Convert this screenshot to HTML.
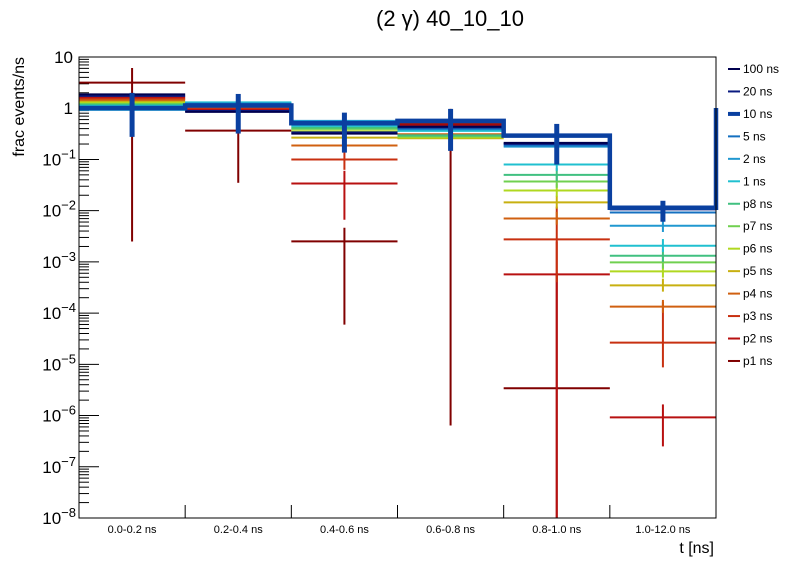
<!DOCTYPE html>
<html><head><meta charset="utf-8"><style>
body{margin:0;background:#fff;}
svg{font-family:"Liberation Sans",sans-serif;}
</style></head><body>
<svg id="c" width="796" height="572" xmlns="http://www.w3.org/2000/svg">
<text x="450" y="26" font-size="22" text-anchor="middle">(2 γ) 40_10_10</text>
<text x="714" y="553" font-size="16" text-anchor="end">t [ns]</text>
<text transform="translate(24,57) rotate(-90)" font-size="16" text-anchor="end">frac events/ns</text>
<g id="plot"></g>
<rect x="79" y="57" width="637" height="461" fill="none" stroke="#000" stroke-width="1"/>
</svg>
<script>
const categories=["0.0-0.2 ns","0.2-0.4 ns","0.4-0.6 ns","0.6-0.8 ns","0.8-1.0 ns","1.0-12.0 ns"];
const seriesNames=["100 ns","20 ns","10 ns","5 ns","2 ns","1 ns","p8 ns","p7 ns","p6 ns","p5 ns","p4 ns","p3 ns","p2 ns","p1 ns"];
const seriesColors=["#00004f","#0a1a80","#0a40a0","#1470c0","#2098d0","#20c0d0","#40c080","#70d050","#b0d820","#c8b010","#d06010","#c83010","#b81010","#800000"];
const v100=[1.86,0.847,0.32,0.438,0.211,0.0109];
const v20=[1.74,0.885,0.337,0.423,0.201,0.0106];
const v10=[1.01,1.13,0.51,0.565,0.292,0.0114];
const v5=[0.97,1.21,0.483,0.40,0.188,0.00923];
const v2=[0.93,1.24,0.565,0.386,0.178,0.00508];
const v1=[1.11,1.30,0.452,0.361,0.0796,0.00207];
const vp8=[1.16,1.27,0.419,0.295,0.0501,0.00132];
const vp7=[1.21,1.24,0.395,0.282,0.037,0.000977];
const vp6=[1.27,1.21,0.356,0.27,0.0248,0.000653];
const vp5=[1.33,1.19,0.267,0.26,0.0145,0.000348];
const vp4=[1.42,1.06,0.187,0.311,0.00705,0.000134];
const vp3=[1.52,1.01,0.0995,0.378,0.00275,2.66e-5];
const vp2=[1.63,0.957,0.0339,0.462,0.000571,9.2e-7];
const vp1=[3.16,0.366,0.00251,0.488,3.42e-6,null];
const err10Lo=[0.276,0.32,0.136,0.147,0.0796,0.00608];
const err10Hi=[1.99,1.90,0.82,0.97,0.494,0.0156];
const errP1Lo=[0.0025,0.035,5.97e-5,6.4e-7,1e-9,null];
const errP1Hi=[6.1,0.366,0.00465,0.97,6e-4,null];
const errP2Lo=[1.5,0.9,0.00665,0.4,1e-9,2.5e-7];
const errP2Hi=[1.75,1.0,0.06,0.5,0.0025,1.65e-6];
const errP3Lo=[1.45,0.95,0.0627,0.35,0.0004,8.7e-6];
const errP3Hi=[1.6,1.05,0.15,0.4,0.012,1.67e-4];
const relErr=[0.05,0.05,0.12,0.1,0.35,0.35];
const yTicks=[10,1,0.1,0.01,0.001,1e-4,1e-5,1e-6,1e-7,1e-8];
const yTickLabels=["10","1","10|\u22121","10|\u22122","10|\u22123","10|\u22124","10|\u22125","10|\u22126","10|\u22127","10|\u22128"];
const seriesVals=[v100,v20,v10,v5,v2,v1,vp8,vp7,vp6,vp5,vp4,vp3,vp2,vp1];

const X0=79,X1=716,Y0=57,Y1=518,LMAX=1,LMIN=-8;
const NS="http://www.w3.org/2000/svg";
const bw=(X1-X0)/categories.length;
function xEdge(i){return X0+bw*i;}
function xC(i){return X0+bw*(i+0.5);}
function y(v){let l=Math.log10(v);l=Math.max(LMIN,Math.min(LMAX,l));return Y0+(LMAX-l)/(LMAX-LMIN)*(Y1-Y0);}
const g=document.getElementById('plot');
function mk(t,a,p){const e=document.createElementNS(NS,t);for(const k in a)e.setAttribute(k,a[k]);(p||g).appendChild(e);return e;}

yTicks.forEach((t,i)=>{
  const yy=y(t);
  const tk=mk('line',{x1:X0,x2:X0+20,y1:yy,y2:yy,stroke:'#000'});
  
  
  if(i<yTicks.length-1){for(let m=2;m<=9;m++){const my=y(t/10*m);const mt=mk('line',{x1:X0,x2:X0+10,y1:my,y2:my,stroke:'#000'});
    
    }}
  const parts=yTickLabels[i].split('|');
  const tx=mk('text',{x:X0-6,y:yy+6,'font-size':17,'text-anchor':'end'});
  
  
  if(parts.length===1){tx.textContent=parts[0];}
  else{const a=mk('tspan',{},tx);a.textContent=parts[0];const b=mk('tspan',{dy:-7,'font-size':13},tx);b.textContent=parts[1];tx.setAttribute('x',X0-3);}
});
categories.forEach((c,i)=>{
  if(i>0){const t=mk('line',{x1:xEdge(i),x2:xEdge(i),y1:Y1,y2:Y1-13,stroke:'#000'});
    
    }
  const l=mk('text',{x:xC(i),y:Y1+15,'font-size':11,'text-anchor':'middle'});
  l.textContent=c;
  
  
});
const order=[13,12,11,10,9,8,7,6,5,4,3,1,0];
order.forEach(si=>{
  const vals=seriesVals[si],col=seriesColors[si];
  const grp=mk('g',{});
  
  
  vals.forEach((v,i)=>{
    if(v==null)return;
    let lo,hi;
    if(si===13){lo=errP1Lo[i];hi=errP1Hi[i];}
    else if(si===12){lo=errP2Lo[i];hi=errP2Hi[i];}
    else if(si===11){lo=errP3Lo[i];hi=errP3Hi[i];}
    else{lo=v*(1-relErr[i]*0.7);hi=v*(1+relErr[i]);}
    const eb=mk('line',{x1:xC(i),x2:xC(i),y1:y(hi),y2:y(lo),stroke:col,'stroke-width':2},grp);
    
    
    const h=mk('line',{x1:xEdge(i),x2:xEdge(i+1),y1:y(v),y2:y(v),stroke:col,'stroke-width':2},grp);
    
    
  });
});
(function(){
  const col=seriesColors[2];
  let d='';
  v10.forEach((v,i)=>{d+=(i===0?'M':'L')+xEdge(i)+','+y(v)+'L'+xEdge(i+1)+','+y(v);});
  d+='L'+X1+','+y(v10[0]);
  const p=mk('path',{d:d,fill:'none',stroke:col,'stroke-width':4.5});
  
  
  v10.forEach((v,i)=>{
    const e=mk('line',{x1:xC(i),x2:xC(i),y1:y(err10Hi[i]),y2:y(err10Lo[i]),stroke:col,'stroke-width':5});
    
    
  });
})();
const svg=document.getElementById('c');
seriesNames.forEach((n,i)=>{
  const yy=69+i*22.46;
  const l=mk('line',{x1:728,x2:740,y1:yy,y2:yy,stroke:seriesColors[i],'stroke-width':i===2?4:2},svg);
  
  
  const t=mk('text',{x:743,y:yy+4,'font-size':12},svg);
  t.textContent=n;
  
  
});
</script>
</body></html>
